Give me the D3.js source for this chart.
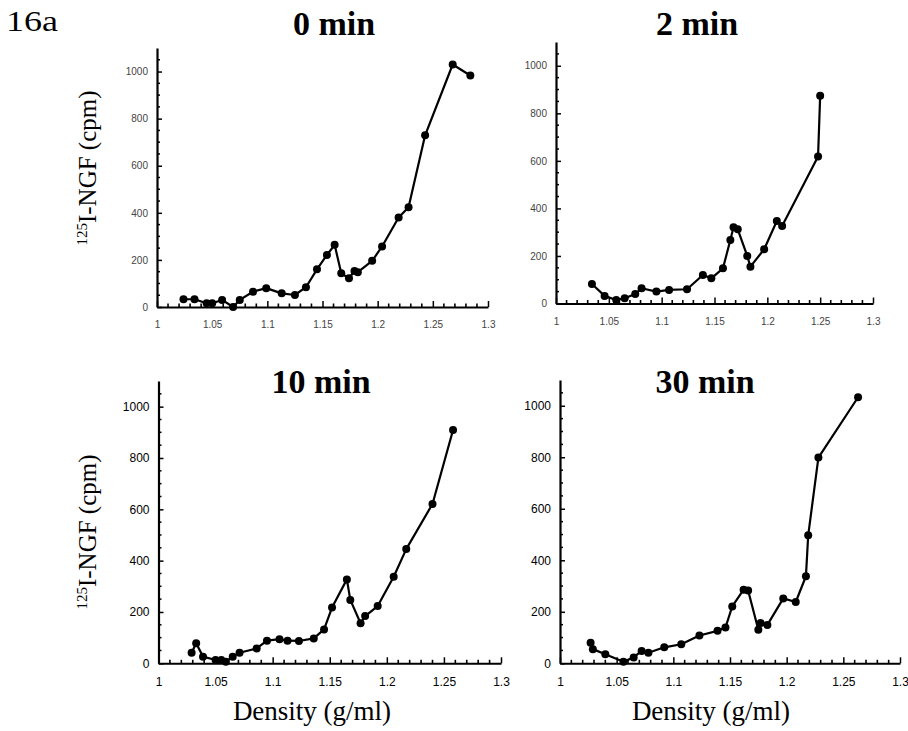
<!DOCTYPE html>
<html>
<head>
<meta charset="utf-8">
<script src="https://cdn.jsdelivr.net/npm/d3@7"></script>
<style>
  html, body { margin: 0; padding: 0; background: #fff; }
  svg { display: block; }
</style>
</head>
<body>
<svg id="chart" width="908" height="731"></svg>
<script>
// ---------- DATA ----------
const panelTitles = ["0 min", "2 min", "10 min", "30 min"];
const xTickValues = [1, 1.05, 1.1, 1.15, 1.2, 1.25, 1.3];
const xTickLabels = ["1", "1.05", "1.1", "1.15", "1.2", "1.25", "1.3"];
const yTickValues = [0, 200, 400, 600, 800, 1000];
const yTickLabels = ["0", "200", "400", "600", "800", "1000"];

const density0 = [1.024, 1.034, 1.045, 1.050, 1.059, 1.069, 1.075, 1.087, 1.099, 1.113, 1.125, 1.135, 1.145, 1.154, 1.161, 1.167, 1.174, 1.179, 1.182, 1.195, 1.204, 1.219, 1.228, 1.243, 1.268, 1.284];
const cpm0     = [33, 33, 16, 16, 30, 0, 30, 65, 80, 58, 51, 84, 160, 221, 264, 143, 122, 153, 148, 196, 257, 380, 424, 729, 1030, 983];

const density2 = [1.034, 1.046, 1.057, 1.065, 1.075, 1.081, 1.095, 1.107, 1.124, 1.139, 1.147, 1.158, 1.165, 1.168, 1.172, 1.181, 1.184, 1.197, 1.209, 1.214, 1.248, 1.250];
const cpm2     = [82, 32, 15, 22, 40, 64, 50, 57, 60, 120, 106, 148, 267, 321, 312, 200, 155, 228, 347, 326, 618, 874];

const density10 = [1.029, 1.033, 1.039, 1.050, 1.055, 1.059, 1.065, 1.071, 1.086, 1.095, 1.106, 1.113, 1.123, 1.136, 1.145, 1.152, 1.165, 1.168, 1.177, 1.181, 1.192, 1.206, 1.217, 1.240, 1.258];
const cpm10     = [41, 78, 26, 13, 13, 6, 26, 41, 58, 88, 94, 88, 87, 97, 132, 217, 327, 247, 156, 184, 223, 337, 445, 621, 909];

const density30 = [1.027, 1.029, 1.040, 1.056, 1.065, 1.072, 1.078, 1.092, 1.107, 1.123, 1.139, 1.146, 1.152, 1.162, 1.166, 1.175, 1.177, 1.183, 1.197, 1.208, 1.217, 1.219, 1.228, 1.263];
const cpm30     = [80, 55, 35, 6, 23, 48, 41, 62, 74, 108, 126, 139, 221, 286, 283, 130, 156, 149, 252, 238, 338, 497, 799, 1033];

const seriesX = [density0, density2, density10, density30];
const seriesY = [cpm0, cpm2, cpm10, cpm30];

// ---------- LAYOUT ----------
const layout = [
  { left: 157,   right: 488, bottom: 307,   top: 48,  titleX: 334, titleY: 35,  tickFont: 10, tickColor: "#444" },
  { left: 556,   right: 873, bottom: 303.5, top: 42,  titleX: 697, titleY: 35,  tickFont: 10, tickColor: "#444" },
  { left: 158.5, right: 501, bottom: 663.3, top: 381, titleX: 321, titleY: 393, tickFont: 12, tickColor: "#000" },
  { left: 560,   right: 900, bottom: 663.3, top: 380, titleX: 705, titleY: 393, tickFont: 12, tickColor: "#000" }
];

const svg = d3.select("#chart");
svg.append("rect").attr("width", 908).attr("height", 731).attr("fill", "#fff");

const tickFontFamily = "'Liberation Sans Narrow', 'Arial Narrow', 'Liberation Sans', sans-serif";
const serif = "'Liberation Serif', 'Times New Roman', serif";

layout.forEach((L, i) => {
  const x = d3.scaleLinear().domain([1, 1.3]).range([L.left, L.right]);
  const y = d3.scaleLinear().domain([0, 1100]).range([L.bottom, L.top]);
  const g = svg.append("g");

  // X axis (ticks pointing inward/up)
  const xAxis = d3.axisBottom(x)
    .tickValues(xTickValues)
    .tickFormat((d, k) => xTickLabels[k])
    .tickSizeInner(-6).tickSizeOuter(0).tickPadding(14);
  const gx = g.append("g").attr("transform", `translate(0,${L.bottom})`).call(xAxis);
  gx.select(".domain").attr("stroke", "#000").attr("stroke-width", 2);
  gx.selectAll(".tick line").attr("stroke", "#000").attr("stroke-width", 1.5);
  gx.selectAll(".tick text")
    .attr("font-family", tickFontFamily).attr("font-size", L.tickFont)
    .attr("fill", L.tickColor);

  // x minor ticks every 0.01
  const xMinor = d3.range(1, 31).map(k => 1 + k * 0.01).filter(v => Math.abs(v * 20 - Math.round(v * 20)) > 1e-6);
  g.append("g").selectAll("line").data(xMinor).join("line")
    .attr("x1", d => x(d)).attr("x2", d => x(d))
    .attr("y1", L.bottom).attr("y2", L.bottom - 3.5)
    .attr("stroke", "#000").attr("stroke-width", 1.6);

  // Y axis (ticks inward/right)
  const yAxis = d3.axisLeft(y)
    .tickValues(yTickValues)
    .tickFormat((d, k) => yTickLabels[k])
    .tickSizeInner(-5).tickSizeOuter(0).tickPadding(9);
  const gy = g.append("g").attr("transform", `translate(${L.left},0)`).call(yAxis);
  gy.select(".domain").attr("stroke", "#000").attr("stroke-width", 2.2);
  gy.selectAll(".tick line").attr("stroke", "#000").attr("stroke-width", 1.5);
  gy.selectAll(".tick text")
    .attr("font-family", tickFontFamily).attr("font-size", L.tickFont)
    .attr("fill", L.tickColor);

  // y minor ticks every 50
  const yMinor = d3.range(1, 22).map(k => k * 50).filter(v => v % 200 !== 0);
  g.append("g").selectAll("line").data(yMinor).join("line")
    .attr("x1", L.left).attr("x2", L.left + 3)
    .attr("y1", d => y(d)).attr("y2", d => y(d))
    .attr("stroke", "#000").attr("stroke-width", 1.5);

  // Series line + markers
  const pts = seriesX[i].map((d, k) => [d, seriesY[i][k]]);
  g.append("path").datum(pts)
    .attr("fill", "none").attr("stroke", "#000").attr("stroke-width", 2.2)
    .attr("stroke-linejoin", "round")
    .attr("d", d3.line().x(d => x(d[0])).y(d => y(d[1])));
  g.append("g").selectAll("circle").data(pts).join("circle")
    .attr("cx", d => x(d[0])).attr("cy", d => y(d[1])).attr("r", 4)
    .attr("fill", "#000");

  // Title
  svg.append("text")
    .attr("x", L.titleX).attr("y", L.titleY)
    .attr("text-anchor", "middle")
    .attr("font-family", serif).attr("font-weight", "bold").attr("font-size", 34)
    .text(panelTitles[i]);
});

// Figure label
svg.append("text").attr("x", 6).attr("y", 31)
  .attr("font-family", serif).attr("font-size", 30)
  .attr("textLength", 52).attr("lengthAdjust", "spacingAndGlyphs")
  .text("16a");

// Y axis titles
[168, 532].forEach(cy => {
  const t = svg.append("text")
    .attr("transform", `translate(96,${cy}) rotate(-90)`)
    .attr("text-anchor", "middle")
    .attr("font-family", serif).attr("font-size", 25);
  t.append("tspan").attr("font-size", 15).attr("dy", -9).text("125");
  t.append("tspan").attr("dy", 9).text("I-NGF (cpm)");
});

// X axis titles
[312, 711].forEach(cx => {
  svg.append("text").attr("x", cx).attr("y", 720)
    .attr("text-anchor", "middle")
    .attr("font-family", serif).attr("font-size", 27)
    .text("Density (g/ml)");
});
</script>
</body>
</html>
